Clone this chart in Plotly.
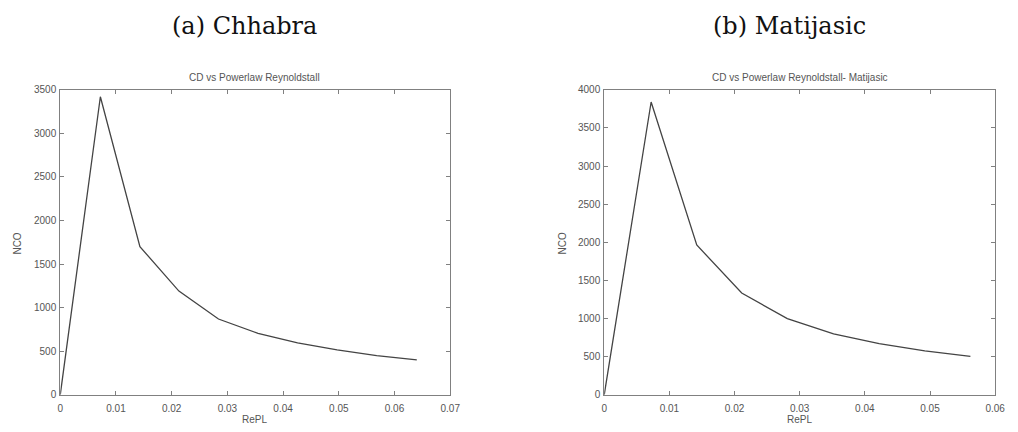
import plotly.graph_objects as go

# Data
repl_a = [0.0, 0.0072, 0.0143, 0.0213, 0.0284, 0.0355, 0.0426, 0.0497, 0.0568, 0.0640]
nco_a = [0, 3420, 1700, 1190, 870, 705, 595, 515, 450, 402]

repl_b = [0.0, 0.0072, 0.0142, 0.0211, 0.0281, 0.0352, 0.0422, 0.0492, 0.0562]
nco_b = [0, 3840, 1965, 1335, 1000, 800, 670, 575, 505]

panel_titles = ["(a) Chhabra", "(b) Matijasic"]
plot_titles = ["CD vs Powerlaw Reynoldstall", "CD vs Powerlaw Reynoldstall- Matijasic"]
x_label = "RePL"
y_label = "NCO"

W, H = 1018, 432
line_col = "#444444"
axis_col = "#808080"
tick_font = dict(family="Liberation Sans, Arial", size=10, color="#555555")

fig = go.Figure()
fig.add_trace(go.Scatter(x=repl_a, y=nco_a, mode="lines",
                         line=dict(color=line_col, width=1.3), xaxis="x", yaxis="y",
                         showlegend=False))
fig.add_trace(go.Scatter(x=repl_b, y=nco_b, mode="lines",
                         line=dict(color=line_col, width=1.3), xaxis="x2", yaxis="y2",
                         showlegend=False))

ax_common = dict(showgrid=False, zeroline=False, showline=True, linecolor=axis_col,
                 linewidth=1, mirror="ticks", ticks="inside", ticklen=4,
                 tickcolor=axis_col, tickfont=tick_font)

ybot, ytop = 400, 87
yd = [1 - ybot / H, 1 - ytop / H]
xa = [58 / W, 453 / W]
xb = [609 / W, 1005 / W]

fig.update_layout(
    width=W, height=H, margin=dict(l=0, r=0, t=0, b=0),
    paper_bgcolor="white", plot_bgcolor="white",
    xaxis=dict(domain=xa, range=[0, 0.07], dtick=0.01, anchor="y", ticklabelstandoff=4, **ax_common),
    yaxis=dict(domain=yd, range=[0, 3500], dtick=500, anchor="x", ticklabelstandoff=1, **ax_common),
    xaxis2=dict(domain=xb, range=[0, 0.06], dtick=0.01, anchor="y2", ticklabelstandoff=4, **ax_common),
    yaxis2=dict(domain=yd, range=[0, 4000], dtick=500, anchor="x2", ticklabelstandoff=1, **ax_common),
)

serif = dict(family="DejaVu Serif, Liberation Serif, serif", size=24, color="#111111")
small = dict(family="Liberation Sans, Arial", size=10, color="#555555")
anns = []
for cx, pt in [(245, panel_titles[0]), (797, panel_titles[1])]:
    anns.append(dict(x=cx / W, y=1 - 22 / H, xref="paper", yref="paper", text=pt,
                     showarrow=False, font=serif, xanchor="center", yanchor="middle"))
for cx, st in [(255, plot_titles[0]), (807, plot_titles[1])]:
    anns.append(dict(x=cx / W, y=1 - 74 / H, xref="paper", yref="paper", text=st,
                     showarrow=False, font=small, xanchor="center", yanchor="middle"))
    anns.append(dict(x=cx / W, y=1 - 425 / H, xref="paper", yref="paper", text=x_label,
                     showarrow=False, font=small, xanchor="center", yanchor="middle"))
for cx in [15, 567]:
    anns.append(dict(x=cx / W, y=1 - 245 / H, xref="paper", yref="paper", text=y_label,
                     showarrow=False, font=small, textangle=-90,
                     xanchor="center", yanchor="middle"))
fig.update_layout(annotations=anns)

fig.write_html("out.html")
